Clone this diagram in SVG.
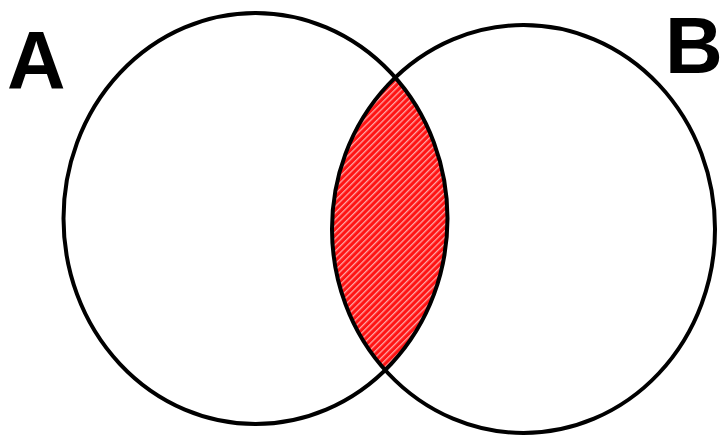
<svg xmlns="http://www.w3.org/2000/svg" width="724" height="438" viewBox="0 0 724 438">
  <style>
    .set { fill: none; stroke: #000; stroke-width: 4; }
    .label { font-family: "Liberation Sans", Arial, sans-serif; font-weight: bold; font-size: 81px; fill: #000; }
  </style>
  <defs>
    <pattern id="hatch" patternUnits="userSpaceOnUse" width="4.5" height="4.5" patternTransform="rotate(-45)">
      <rect width="4.5" height="4.5" fill="#ff1414"/>
      <line x1="0" y1="0.7" x2="4.5" y2="0.7" stroke="#ffffff" stroke-width="1" stroke-opacity="0.8"/>
    </pattern>
    <clipPath id="clipA">
      <ellipse cx="255.5" cy="218.5" rx="192" ry="205.5"/>
    </clipPath>
  </defs>
  <rect width="724" height="438" fill="#ffffff"/>
  <g id="intersection">
    <ellipse cx="523.5" cy="229" rx="191.5" ry="204" fill="url(#hatch)" clip-path="url(#clipA)"/>
  </g>
  <g id="setA">
    <ellipse class="set" cx="255.5" cy="218.5" rx="192" ry="205.5"/>
    <text class="label" x="7" y="88">A</text>
  </g>
  <g id="setB">
    <ellipse class="set" cx="523.5" cy="229" rx="191.5" ry="204"/>
    <text class="label" x="665" y="73" style="font-size:80px">B</text>
  </g>
  <g id="connectors"></g>
</svg>
